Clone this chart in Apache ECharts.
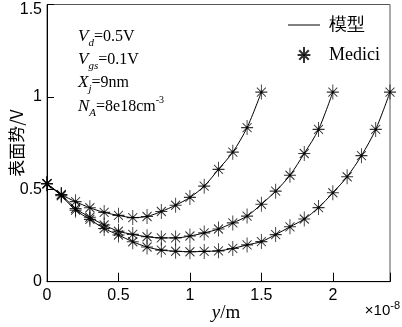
<!DOCTYPE html>
<html><head><meta charset="utf-8">
<script src="https://cdn.jsdelivr.net/npm/echarts@6/dist/echarts.min.js"></script>
<style>html,body{margin:0;padding:0;background:#fff}#c{width:402px;height:327px}</style>
</head><body><div id="c"></div>
<script>
// x positions in units of 1e-8 m
const xShort = [0,0.1,0.2,0.3,0.4,0.5,0.6,0.7,0.8,0.9,1.0,1.1,1.2,1.3,1.4,1.5];
const xMid = [0,0.1,0.2,0.3,0.4,0.5,0.6,0.7,0.8,0.9,1.0,1.1,1.2,1.3,1.4,1.5,1.6,1.7,1.8,1.9,2.0];
const xLong = [0,0.1,0.2,0.3,0.4,0.5,0.6,0.7,0.8,0.9,1.0,1.1,1.2,1.3,1.4,1.5,1.6,1.7,1.8,1.9,2.0,2.1,2.2,2.3,2.4];
// surface potential (V)
const vShort = [0.53,0.472,0.433,0.400,0.375,0.359,0.347,0.353,0.380,0.414,0.456,0.517,0.608,0.701,0.834,1.026];
const vMid = [0.53,0.470,0.396,0.349,0.307,0.273,0.256,0.243,0.237,0.237,0.247,0.264,0.285,0.318,0.355,0.419,0.490,0.576,0.694,0.824,1.026];
const vLong = [0.53,0.465,0.387,0.337,0.288,0.253,0.216,0.188,0.171,0.165,0.162,0.164,0.167,0.180,0.199,0.217,0.255,0.297,0.339,0.401,0.481,0.568,0.682,0.824,1.026];
const xTicks = ['0','0.5','1','1.5','2'];
const yTicks = ['0','0.5','1','1.5'];
const modelName = '模型';
const mediciName = 'Medici';

const pair = (xs, vs) => xs.map((x, i) => [x, vs[i]]);
const curves = [pair(xShort, vShort), pair(xMid, vMid), pair(xLong, vLong)];

const starPath = 'path://M6,0L6,15M0,7.5L12,7.5M1.5,3L10.5,12M1.5,12L10.5,3M5,6.5L7,6.5L7,8.5L5,8.5Z';
const serif = '"Liberation Serif","Times New Roman",serif';
const sans = '"Liberation Sans",Arial,sans-serif';

const series = [];
curves.forEach(d => {
  series.push({
    name: modelName, type: 'line', data: d, smooth: 0.3, symbol: 'none',
    lineStyle: {color: '#000', width: 1}, itemStyle: {color: '#000'}, z: 2
  });
});
curves.forEach(d => {
  series.push({
    name: mediciName, type: 'scatter', data: d, symbol: starPath, symbolSize: [12, 15],
    clip: false, itemStyle: {color: '#000', borderColor: '#000', borderWidth: 1}, z: 3
  });
});

const anno = (y, parts) => ({
  type: 'text', left: 78, top: y,
  style: {
    text: parts,
    font: '16px ' + serif, fill: '#000',
    rich: {
      v: {fontFamily: serif, fontSize: 17, fontStyle: 'italic', lineHeight: 20, verticalAlign: 'middle'},
      s: {fontFamily: serif, fontSize: 11, fontStyle: 'italic', lineHeight: 24, verticalAlign: 'bottom'},
      n: {fontFamily: serif, fontSize: 16, lineHeight: 20, verticalAlign: 'middle'},
      p: {fontFamily: serif, fontSize: 10, lineHeight: 20, verticalAlign: 'top'}
    }
  }
});

const chart = echarts.init(document.getElementById('c'));
chart.setOption({
  animation: false,
  backgroundColor: '#fff',
  grid: {left: 47, right: 12, top: 4.5, bottom: 45.3, containLabel: false, outerBoundsMode: 'none',
    show: true, borderColor: '#555', borderWidth: 1, backgroundColor: 'transparent'},
  legend: {
    orient: 'vertical', left: 283, top: 11, itemWidth: 32, itemHeight: 16, itemGap: 12,
    data: [
      {name: modelName, icon: 'path://M0,0L32,0L32,1L0,1Z'},
      {name: mediciName}
    ],
    textStyle: {fontFamily: serif, fontSize: 18, color: '#000', lineHeight: 16, padding: [0, 0, 0, 4]}
  },
  xAxis: {
    type: 'value', min: 0, max: 2.4, interval: 0.5,
    axisLine: {lineStyle: {color: '#000', width: 1}},
    axisTick: {inside: true, length: 9, lineStyle: {color: '#000'}},
    axisLabel: {fontFamily: sans, fontSize: 16, color: '#000', margin: 6,
      formatter: v => { const s = String(v); return xTicks.includes(s) ? s : ''; }},
    splitLine: {show: false},
    name: '{i|y}{m|/m}', nameLocation: 'middle', nameGap: 22, nameMoveOverlap: false,
    nameTextStyle: {padding: [0, 0, 0, 15], rich: {
      i: {fontFamily: serif, fontStyle: 'italic', fontSize: 19, color: '#000'},
      m: {fontFamily: serif, fontSize: 19, color: '#000'}}}
  },
  yAxis: {
    type: 'value', min: 0, max: 1.5, interval: 0.5,
    axisLine: {lineStyle: {color: '#000', width: 1}},
    axisTick: {inside: true, length: 7, lineStyle: {color: '#000'}},
    axisLabel: {fontFamily: sans, fontSize: 16, color: '#000', margin: 5,
      formatter: v => {
        const s = String(v);
        if (!yTicks.includes(s)) return '';
        return s === yTicks[yTicks.length - 1] ? '{t|' + s + '}' : s;
      },
      rich: {t: {fontFamily: sans, fontSize: 16, color: '#000', padding: [10, 0, 0, 0]}}},
    splitLine: {show: false},
    name: '表面势/V', nameLocation: 'middle', nameRotate: 90, nameGap: 22, nameMoveOverlap: false,
    nameTextStyle: {fontFamily: '"Noto Sans CJK SC",sans-serif', fontSize: 17, color: '#000'}
  },
  graphic: [
    anno(28, '{v|V}{s|d}{n|=0.5V}'),
    anno(51, '{v|V}{s|gs}{n|=0.1V}'),
    anno(74, '{v|X}{s|j}{n|=9nm}'),
    anno(95, '{v|N}{s|A}{n|=8e18cm}{p|-3}'),
    {type: 'text', right: 2, top: 300,
     style: {text: '{a|×10}{b|-8}', rich: {
       a: {fontFamily: sans, fontSize: 15, color: '#000', lineHeight: 18, verticalAlign: 'bottom'},
       b: {fontFamily: sans, fontSize: 11, color: '#000', lineHeight: 18, verticalAlign: 'top'}}}}
  ],
  series: series
});
</script></body></html>
